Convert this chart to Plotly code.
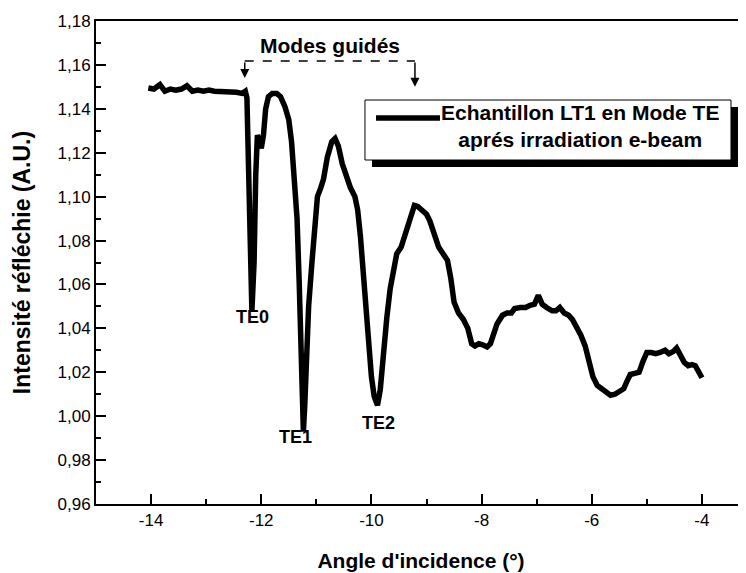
import plotly.graph_objects as go

angle = [-14.05, -13.95, -13.84, -13.75, -13.65, -13.55, -13.45, -13.35, -13.25, -13.15,
         -13.05, -12.95, -12.85, -12.75, -12.65, -12.55, -12.45, -12.35, -12.29, -12.26,
         -12.23, -12.20, -12.17, -12.13, -12.10, -12.07, -12.03, -12.00, -11.96, -11.92,
         -11.87, -11.80, -11.72, -11.65, -11.57, -11.50, -11.45, -11.40, -11.35, -11.31,
         -11.28, -11.25, -11.235, -11.21, -11.18, -11.14, -11.08, -11.03, -10.98, -10.92,
         -10.87, -10.80, -10.72, -10.66, -10.60, -10.53, -10.45, -10.38, -10.30, -10.25,
         -10.20, -10.15, -10.10, -10.05, -10.00, -9.95, -9.89, -9.84, -9.78, -9.72,
         -9.66, -9.60, -9.54, -9.46, -9.38, -9.30, -9.22, -9.16, -9.08, -9.00,
         -8.94, -8.86, -8.78, -8.70, -8.62, -8.56, -8.50, -8.42, -8.33, -8.25,
         -8.18, -8.12, -8.05, -7.98, -7.90, -7.84, -7.78, -7.72, -7.62, -7.54,
         -7.46, -7.40, -7.30, -7.20, -7.12, -7.04, -6.97, -6.90, -6.82, -6.72,
         -6.65, -6.58, -6.50, -6.42, -6.35, -6.28, -6.20, -6.12, -6.05, -5.98,
         -5.90, -5.82, -5.74, -5.66, -5.58, -5.50, -5.42, -5.36, -5.30, -5.22,
         -5.14, -5.07, -5.00, -4.92, -4.84, -4.76, -4.67, -4.60, -4.52, -4.46,
         -4.40, -4.32, -4.25, -4.18, -4.12, -4.06, -4.00]

intensity = [1.1495, 1.149, 1.151, 1.148, 1.149, 1.1485, 1.149, 1.1505, 1.148, 1.1485,
             1.148, 1.1485, 1.148, 1.148, 1.1475, 1.148, 1.1475, 1.147, 1.148, 1.145,
             1.120, 1.080, 1.048, 1.070, 1.110, 1.128, 1.125, 1.122, 1.128, 1.140,
             1.1455, 1.147, 1.147, 1.1455, 1.141, 1.135, 1.125, 1.110, 1.090, 1.060,
             1.030, 1.000, 0.993, 1.005, 1.030, 1.050, 1.070, 1.088, 1.100, 1.104,
             1.108, 1.118, 1.125, 1.1265, 1.123, 1.115, 1.108, 1.104, 1.100, 1.094,
             1.082, 1.065, 1.048, 1.032, 1.018, 1.009, 1.005, 1.012, 1.030, 1.045,
             1.058, 1.068, 1.074, 1.077, 1.083, 1.090, 1.096, 1.0955, 1.094, 1.092,
             1.089, 1.083, 1.077, 1.074, 1.071, 1.063, 1.052, 1.047, 1.044, 1.040,
             1.033, 1.032, 1.033, 1.0325, 1.0315, 1.033, 1.038, 1.042, 1.046, 1.047,
             1.047, 1.049, 1.0495, 1.0495, 1.0505, 1.051, 1.055, 1.051, 1.0495, 1.048,
             1.048, 1.0495, 1.047, 1.046, 1.044, 1.041, 1.037, 1.032, 1.025, 1.018,
             1.014, 1.0125, 1.011, 1.0095, 1.010, 1.0115, 1.0125, 1.016, 1.019, 1.0195,
             1.020, 1.025, 1.029, 1.029, 1.0285, 1.029, 1.030, 1.0285, 1.0295, 1.031,
             1.028, 1.0245, 1.023, 1.0235, 1.023, 1.020, 1.0175]

x_tick_values = [-14, -12, -10, -8, -6, -4]
x_tick_labels = ["-14", "-12", "-10", "-8", "-6", "-4"]

mode_labels = ["TE0", "TE1", "TE2"]
mode_x = [-12.15, -11.37, -9.88]
mode_y = [1.045, 0.9905, 0.9968]

series_name = "Echantillon LT1 en Mode TE<br>aprés irradiation e-beam"
x_title = "Angle d'incidence (°)"
y_title = "Intensité réfléchie (A.U.)"
guided_title = "Modes guidés"
guided_start = -12.30
guided_end = -9.21

FONT = "Arial, Liberation Sans, sans-serif"

fig = go.Figure()
fig.add_trace(go.Scatter(x=angle, y=intensity, mode="lines",
                         line=dict(color="black", width=5.5),
                         name=series_name, showlegend=False))

# Legend box drawn manually (shadow + box + sample line + centred text)
fig.add_shape(type="rect", xref="paper", yref="paper",
              x0=0.4246, x1=0.9877, y0=0.6977, y1=0.8219,
              fillcolor="black", line=dict(width=0), layer="above")
fig.add_shape(type="rect", xref="paper", yref="paper",
              x0=0.4138, x1=0.9769, y0=0.7122, y1=0.8364,
              fillcolor="white", line=dict(color="black", width=1), layer="above")
fig.add_shape(type="line", xref="paper", yref="paper",
              x0=0.4308, x1=0.5292, y0=0.7992, y1=0.7992,
              line=dict(color="black", width=5.5), layer="above")
fig.add_annotation(xref="paper", yref="paper", x=0.7446, y=0.7816,
                   xanchor="center", yanchor="middle",
                   text="<b>" + series_name + "</b>", showarrow=False, align="center",
                   font=dict(family=FONT, size=21, color="black"))

# Guided modes bracket
fig.add_shape(type="line", xref="x", yref="y",
              x0=guided_start, x1=guided_end, y0=1.1618, y1=1.1618,
              line=dict(color="black", width=1.5, dash="dash"))
fig.add_annotation(x=guided_start, y=1.1540, ax=guided_start, ay=1.1618,
                   xref="x", yref="y", axref="x", ayref="y", text="",
                   showarrow=True, arrowhead=2, arrowsize=1.2, arrowwidth=1.5, arrowcolor="black")
fig.add_annotation(x=guided_end, y=1.1500, ax=guided_end, ay=1.1618,
                   xref="x", yref="y", axref="x", ayref="y", text="",
                   showarrow=True, arrowhead=2, arrowsize=1.2, arrowwidth=1.5, arrowcolor="black")
fig.add_annotation(x=(guided_start + guided_end) / 2, y=1.169, xref="x", yref="y",
                   text="<b>" + guided_title + "</b>", showarrow=False,
                   font=dict(family=FONT, size=21, color="black"))

for lab, lx, ly in zip(mode_labels, mode_x, mode_y):
    fig.add_annotation(x=lx, y=ly, xref="x", yref="y", text="<b>" + lab + "</b>",
                       showarrow=False, font=dict(family=FONT, size=18, color="black"))

# The page body adds an 8 px offset; margins compensate so the plot area
# lands where it sits in the reference picture.
fig.update_layout(
    width=746, height=573,
    margin=dict(l=88, r=8, t=13, b=77),
    paper_bgcolor="white", plot_bgcolor="white",
    separators=", ",
    font=dict(family=FONT, size=17, color="black"),
    xaxis=dict(range=[-15, -3.2], tickmode="array", tickvals=x_tick_values,
               ticktext=x_tick_labels, ticks="inside", ticklen=10,
               tickwidth=1.5, tickcolor="black", showline=True, linewidth=2,
               linecolor="black", mirror=True, showgrid=False, zeroline=False,
               automargin=False,
               minor=dict(tick0=-15, dtick=1, ticks="inside", ticklen=5, tickwidth=1.5,
                          tickcolor="black"),
               tickfont=dict(family=FONT, size=17),
               title=dict(text="<b>" + x_title + "</b>", standoff=24,
                          font=dict(family=FONT, size=21))),
    yaxis=dict(range=[0.96, 1.18], tick0=0.96, dtick=0.02, tickformat=".2f",
               ticks="inside", ticklen=10, tickwidth=1.5, tickcolor="black",
               showline=True, linewidth=2, linecolor="black", mirror=False,
               showgrid=False, zeroline=False, automargin=False,
               minor=dict(dtick=0.01, ticks="inside", ticklen=5, tickwidth=1.5, tickcolor="black"),
               tickfont=dict(family=FONT, size=17),
               title=dict(text="<b>" + y_title + "</b>", standoff=20,
                          font=dict(family=FONT, size=23))),
)

fig.write_html("out.html")
